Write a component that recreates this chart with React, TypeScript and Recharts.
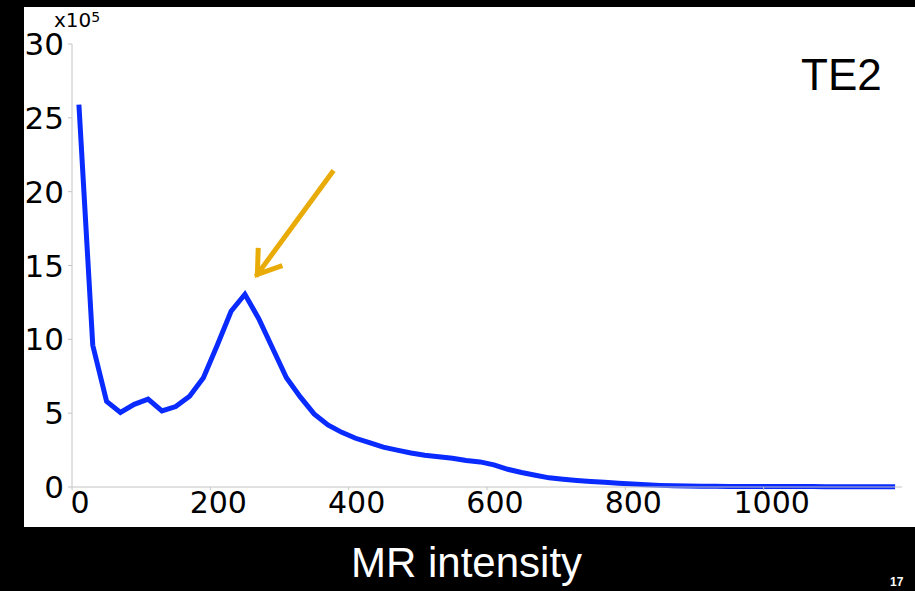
import React from 'react'
import { LineChart, Line, XAxis, YAxis, ReferenceLine } from 'recharts'

// bin centres (MR intensity)
const intensity = [
  10, 30, 50, 70, 90, 110, 130, 150, 170, 190,
  210, 230, 250, 270, 290, 310, 330, 350, 370, 390,
  410, 430, 450, 470, 490, 510, 530, 550, 570, 590,
  610, 630, 650, 670, 690, 710, 730, 750, 770, 790,
  810, 830, 850, 870, 890, 910, 930, 950, 970, 990,
  1010, 1030, 1050, 1070, 1090, 1110, 1130, 1150, 1170, 1190,
]

// voxel counts, x10^5
const counts = [
  25.9, 9.6, 5.8, 5.05, 5.6, 5.95, 5.15, 5.45, 6.15, 7.4,
  9.6, 11.9, 13.05, 11.4, 9.4, 7.4, 6.1, 4.95, 4.2, 3.7,
  3.3, 3.0, 2.7, 2.5, 2.3, 2.15, 2.05, 1.95, 1.8, 1.7,
  1.5, 1.2, 0.98, 0.8, 0.62, 0.52, 0.44, 0.37, 0.32, 0.26,
  0.2, 0.15, 0.11, 0.08, 0.06, 0.05, 0.05, 0.04, 0.04, 0.04,
  0.03, 0.03, 0.03, 0.03, 0.02, 0.02, 0.02, 0.02, 0.02, 0.01,
]

const xTicks = [0, 200, 400, 600, 800, 1000]
const yTicks = [0, 5, 10, 15, 20, 25, 30]

const data = intensity.map((x, i) => ({ x, y: counts[i] }))

const font = '"DejaVu Sans", Verdana, sans-serif'
const sans = '"Liberation Sans", Arial, sans-serif'

function Arrow(props: any) {
  const { x1, y1, x2, y2 } = props
  // x1,y1 = tail, x2,y2 = tip
  const ang = Math.atan2(y1 - y2, x1 - x2)
  const len = 24
  const spread = 0.6
  const w1 = [x2 + len * Math.cos(ang + spread), y2 + len * Math.sin(ang + spread)]
  const w2 = [x2 + len * Math.cos(ang - spread), y2 + len * Math.sin(ang - spread)]
  return (
    <g stroke="#e8ab08" strokeWidth={5} strokeLinecap="square" fill="none">
      <line x1={x1} y1={y1} x2={x2} y2={y2} />
      <polyline points={`${w1[0]},${w1[1]} ${x2},${y2} ${w2[0]},${w2[1]}`} strokeLinejoin="miter" />
    </g>
  )
}

export default function App() {
  return (
    <div style={{ position: 'fixed', left: 0, top: 0, width: 915, height: 591, background: '#000', overflow: 'hidden' }}>
      <div style={{ position: 'absolute', left: 24, top: 7, width: 891, height: 520, background: '#fff' }}>
        <LineChart width={891} height={520} data={data} margin={{ top: 37, right: 13, left: 0, bottom: 0 }}>
          <XAxis
            dataKey="x"
            type="number"
            domain={[0, 1200]}
            ticks={xTicks}
            height={40}
            tickSize={3}
            stroke="#c4c4c4"
            tick={{ fill: '#000', fontSize: 30, fontFamily: font, dx: 8 }}
          />
          <YAxis
            type="number"
            domain={[0, 30]}
            ticks={yTicks}
            width={48}
            tickSize={4}
            tickMargin={4}
            stroke="#c4c4c4"
            tick={{ fill: '#000', fontSize: 31, fontFamily: font }}
          />
          <ReferenceLine
            segment={[{ x: 376, y: 21.3 }, { x: 268, y: 14.4 }]}
            shape={Arrow}
          />
          <Line
            type="linear"
            dataKey="y"
            stroke="#0a2bff"
            strokeWidth={5}
            dot={false}
            isAnimationActive={false}
          />
        </LineChart>
        <div style={{ position: 'absolute', left: 30, top: 0, fontFamily: font, fontSize: 20, color: '#000', lineHeight: '26px' }}>
          x10<sup style={{ fontSize: 14, verticalAlign: 'top', position: 'relative', top: -3 }}>5</sup>
        </div>
        <div style={{ position: 'absolute', left: 777, top: 43, fontFamily: sans, fontSize: 44, color: '#000' }}>
          TE2
        </div>
      </div>
      <div style={{ position: 'absolute', left: 351, top: 539, fontFamily: sans, fontSize: 42, color: '#fff', whiteSpace: 'nowrap' }}>
        MR intensity
      </div>
      <div style={{ position: 'absolute', left: 890, top: 575, fontFamily: sans, fontSize: 12, color: '#fff', fontWeight: 'bold' }}>
        17
      </div>
    </div>
  )
}
